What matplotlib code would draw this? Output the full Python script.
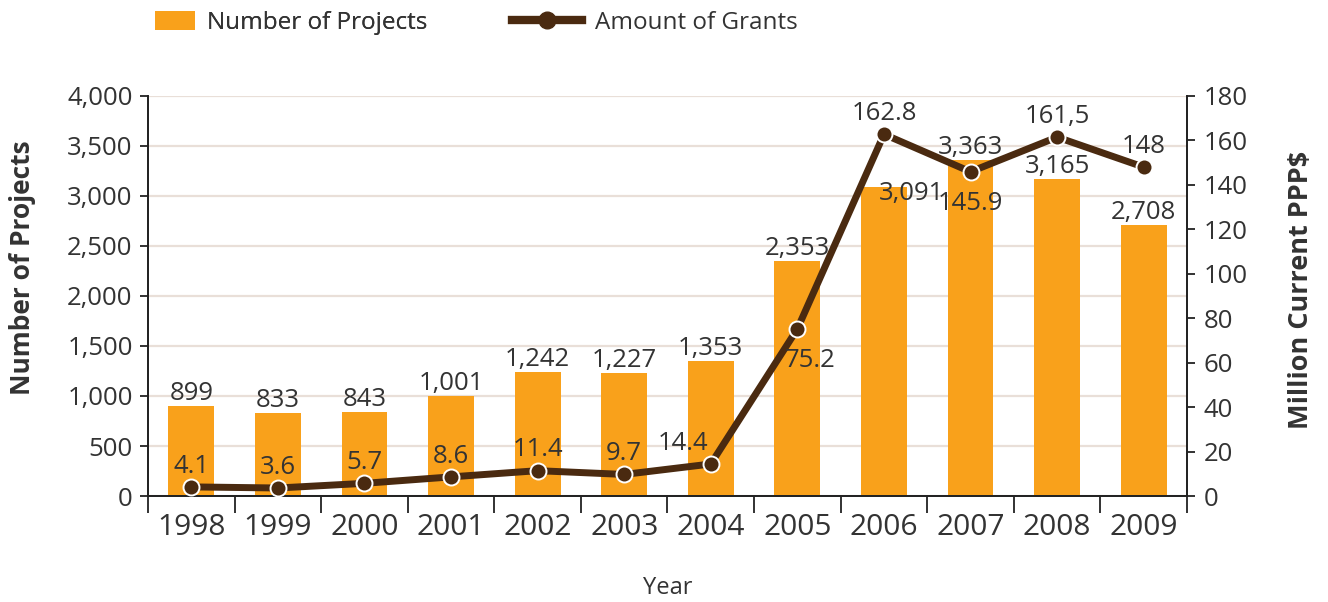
import matplotlib
matplotlib.use("Agg")
import matplotlib.pyplot as plt
from matplotlib.ticker import FuncFormatter, MultipleLocator, FixedLocator
from matplotlib.patches import Patch
from matplotlib.lines import Line2D

plt.rcParams['font.family'] = ['Open Sans', 'DejaVu Sans']

years = ['1998', '1999', '2000', '2001', '2002', '2003',
         '2004', '2005', '2006', '2007', '2008', '2009']
projects = [899, 833, 843, 1001, 1242, 1227, 1353, 2353, 3091, 3363, 3165, 2708]
grants = [4.1, 3.6, 5.7, 8.6, 11.4, 9.7, 14.4, 75.2, 162.8, 145.9, 161.5, 148]
grant_labels = ['4.1', '3.6', '5.7', '8.6', '11.4', '9.7', '14.4', '75.2',
                '162.8', '145.9', '161,5', '148']

C_BAR = '#f9a11b'
C_LINE = '#4a2a10'
C_GRID = '#e9dfd8'
C_TEXT = '#333333'
FS = 18.5

fig = plt.figure(figsize=(13.28, 6.02), dpi=100)
ax = fig.add_axes([148 / 1328, 106 / 602, 1039 / 1328, 400 / 602])
ax2 = ax.twinx()

x = list(range(len(years)))
ax.bar(x, projects, width=0.53, color=C_BAR, zorder=2)

ax.set_xlim(-0.5, len(years) - 0.5)
ax.set_ylim(0, 4000)
ax.yaxis.set_major_locator(MultipleLocator(500))
ax.yaxis.set_major_formatter(FuncFormatter(lambda v, p: f'{int(v):,}'))
ax.grid(axis='y', color=C_GRID, lw=1.6, zorder=0)
ax.set_axisbelow(True)

ax.set_xticks(x)
ax.set_xticklabels(years)
ax.xaxis.set_minor_locator(FixedLocator([i - 0.5 for i in range(len(years) + 1)]))
ax.tick_params(axis='x', which='major', length=0, pad=12, labelsize=21.5, colors=C_TEXT)
ax.tick_params(axis='x', which='minor', length=12, width=1.3, direction='out',
               color='#222222')
ax.tick_params(axis='y', length=6, width=1.3, direction='out', labelsize=FS,
               labelcolor=C_TEXT, color='#222222', pad=5)

ax2.set_ylim(0, 180)
ax2.yaxis.set_major_locator(MultipleLocator(20))
ax2.tick_params(axis='y', length=6, width=1.3, direction='out', labelsize=FS,
                labelcolor=C_TEXT, color='#222222', pad=6)

for a in (ax, ax2):
    a.spines['top'].set_visible(False)
    for s in ('left', 'right', 'bottom'):
        a.spines[s].set_linewidth(1.3)
        a.spines[s].set_color('#222222')

ax2.plot(x, grants, '-', color=C_LINE, lw=5, zorder=5, solid_joinstyle='round',
         marker='o', markersize=11.5, markerfacecolor=C_LINE,
         markeredgecolor='white', markeredgewidth=1.4)

# bar value labels (offsets in points)
bar_off = {8: (20, -14)}
for i, v in enumerate(projects):
    dx, dy = bar_off.get(i, (0, 0))
    ax.annotate(f'{v:,}', (i, v), xytext=(dx, dy), textcoords='offset points',
                ha='center', va='bottom', fontsize=FS, color=C_TEXT, zorder=6)

# line value labels
line_off = {6: (-20, 6), 7: (9, -32), 9: (0, -32)}
for i, (v, lab) in enumerate(zip(grants, grant_labels)):
    dx, dy = line_off.get(i, (0, 6))
    ax2.annotate(lab, (i, v), xytext=(dx, dy), textcoords='offset points',
                 ha='center', va='bottom', fontsize=FS, color=C_TEXT, zorder=7)

ax.set_ylabel('Number of Projects', fontsize=19, fontweight='bold', color=C_TEXT)
ax.yaxis.set_label_coords(-0.108, 0.572)
ax2.set_ylabel('Million Current PPP$', fontsize=19.5, fontweight='bold', color=C_TEXT)
ax2.yaxis.set_label_coords(1.097, 0.515)
ax.set_xlabel('Year', fontsize=17, color=C_TEXT)
ax.xaxis.set_label_coords(0.5, -0.2)

# legend: two entries placed separately so the handles can differ in length
leg_kw = dict(loc='upper left', frameon=False, fontsize=17.5, borderpad=0,
              borderaxespad=0, handletextpad=0.5, labelcolor=C_TEXT)
leg1 = fig.legend([Patch(facecolor=C_BAR, edgecolor='none')], ['Number of Projects'],
                  bbox_to_anchor=(155 / 1328, 1 - 11 / 602), handlelength=1.65,
                  handleheight=0.85, **leg_kw)
fig.add_artist(leg1)
fig.legend([Line2D([0], [0], color=C_LINE, lw=6, marker='o', markersize=12,
                   markerfacecolor=C_LINE, markeredgecolor=C_LINE)],
           ['Amount of Grants'],
           bbox_to_anchor=(512 / 1328, 1 - 11 / 602), handlelength=2.9, **leg_kw)

fig.savefig('out.png', dpi=100)
